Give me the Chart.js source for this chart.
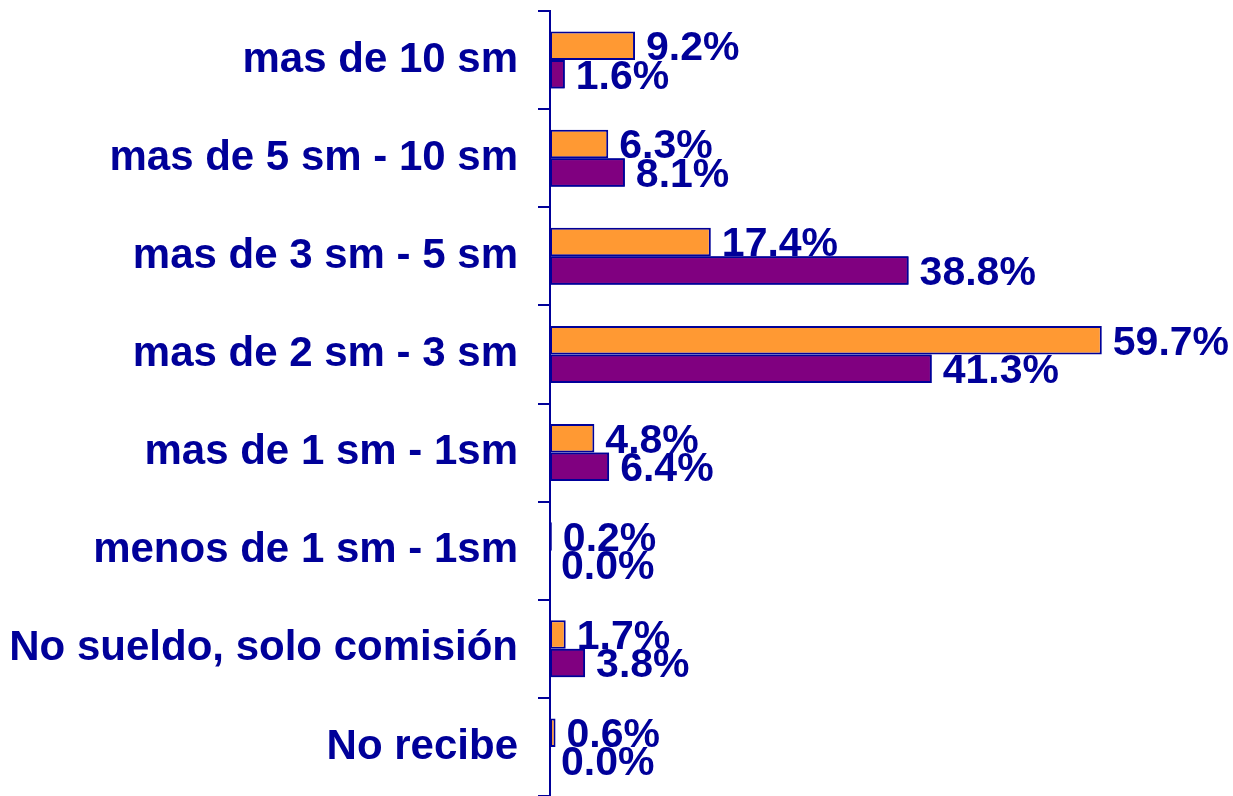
<!DOCTYPE html>
<html>
<head>
<meta charset="utf-8">
<script src="https://cdn.jsdelivr.net/npm/chart.js@4/dist/chart.umd.min.js"></script>
<style>
  html, body { margin: 0; padding: 0; background: #fff; overflow: hidden; }
  #wrap { width: 1233px; height: 796px; }
</style>
</head>
<body>
<div id="wrap"><canvas id="chart" width="1233" height="796"></canvas></div>
<script>
const categories = [
  "mas de 10 sm",
  "mas de 5 sm - 10 sm",
  "mas de 3 sm - 5 sm",
  "mas de 2 sm - 3 sm",
  "mas de 1 sm - 1sm",
  "menos de 1 sm - 1sm",
  "No sueldo, solo comisión",
  "No recibe"
];
const orangeValues = [9.2, 6.3, 17.4, 59.7, 4.8, 0.2, 1.7, 0.6];
const purpleValues = [1.6, 8.1, 38.8, 41.3, 6.4, 0.0, 3.8, 0.0];

const navy = "#000099";
const fontFamily = "Arial, 'Liberation Sans', sans-serif";
const labelFont = "bold 41px " + fontFamily;

// value labels; orange labels sit under the purple bars like the original
const valueLabels = {
    id: "valueLabels",
    afterDatasetsDraw(chart) {
        const ctx = chart.ctx;
        const drawLabels = (index) => {
            const meta = chart.getDatasetMeta(index);
            const values = chart.data.datasets[index].data;
            ctx.save();
            ctx.font = labelFont;
            ctx.fillStyle = navy;
            ctx.textAlign = "left";
            ctx.textBaseline = "middle";
            meta.data.forEach((bar, i) => {
                ctx.fillText(values[i].toFixed(1) + "%", bar.x + 11, bar.y + 3);
            });
            ctx.restore();
        };
        drawLabels(0);
        chart.getDatasetMeta(1).data.forEach((bar) => bar.draw(ctx));
        drawLabels(1);
    }
};

new Chart(document.getElementById("chart").getContext("2d"), {
    type: "bar",
    data: {
        labels: categories,
        datasets: [
            {
                data: orangeValues,
                backgroundColor: "#FF9933",
                borderColor: navy,
                borderWidth: 2,
                borderSkipped: false,
                categoryPercentage: 0.58,
                barPercentage: 1
            },
            {
                data: purpleValues,
                backgroundColor: "#800080",
                borderColor: navy,
                borderWidth: 2,
                borderSkipped: false,
                categoryPercentage: 0.58,
                barPercentage: 1
            }
        ]
    },
    options: {
        indexAxis: "y",
        responsive: false,
        animation: false,
        layout: { padding: { top: 11, right: 36, bottom: 0, left: 0 } },
        plugins: {
            legend: { display: false },
            tooltip: { enabled: false }
        },
        scales: {
            x: {
                display: false,
                min: 0,
                max: 70
            },
            y: {
                afterFit: (scale) => {
                    scale.width = 550;
                    scale.paddingTop = 0;
                    scale.paddingBottom = 0;
                },
                border: { color: navy, width: 2 },
                grid: {
                    offset: true,
                    drawOnChartArea: false,
                    drawTicks: true,
                    tickLength: 12,
                    color: navy,
                    lineWidth: 2
                },
                ticks: {
                    color: navy,
                    padding: 20,
                    font: { family: fontFamily, size: 42, weight: "bold" }
                }
            }
        }
    },
    plugins: [valueLabels]
});
</script>
</body>
</html>
